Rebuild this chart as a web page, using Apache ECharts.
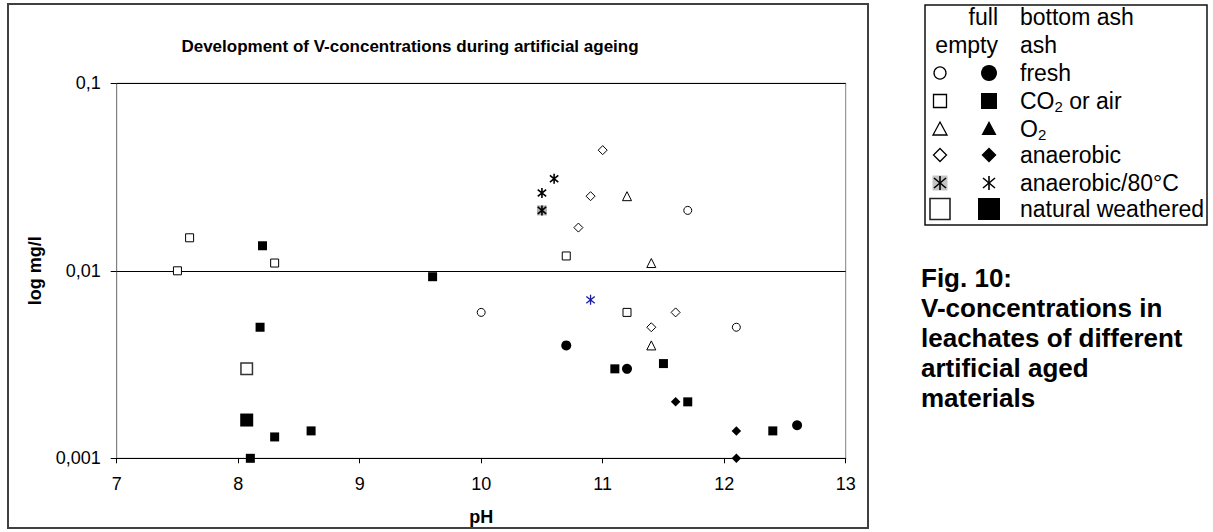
<!DOCTYPE html>
<html>
<head>
<meta charset="utf-8">
<script src="https://cdn.jsdelivr.net/npm/echarts@6/dist/echarts.min.js"></script>
<style>
html, body { margin: 0; padding: 0; background: #fff; }
#chart { width: 1213px; height: 532px; }
</style>
</head>
<body>
<div id="chart"></div>
<script>
// data: [pH, mg/l]
var freshEmpty = [[10.0, 0.006], [11.7, 0.021], [12.1, 0.005]];
var freshFull = [[10.7, 0.004], [11.2, 0.003], [12.6, 0.0015]];
var co2Empty = [[7.5, 0.010], [7.6, 0.015], [8.3, 0.011], [10.7, 0.012], [11.2, 0.006]];
var co2Full = [[8.2, 0.0136], [8.18, 0.005], [8.3, 0.0013], [8.6, 0.0014], [8.1, 0.001],
  [9.6, 0.0093], [11.1, 0.003], [11.5, 0.0032], [11.7, 0.002], [12.4, 0.0014]];
var o2Empty = [[11.2, 0.025], [11.4, 0.011], [11.4, 0.004]];
var anaerobicEmpty = [[11.0, 0.044], [10.9, 0.025], [10.8, 0.017], [11.6, 0.006], [11.4, 0.005]];
var anaerobicFull = [[11.6, 0.002], [12.1, 0.0014], [12.1, 0.001]];
var hot80Empty = [[10.5, 0.021]];
var hot80Full = [[10.6, 0.031], [10.5, 0.026]];
var hot80Blue = [[10.9, 0.007]];
var naturalEmpty = [[8.07, 0.003]];
var naturalFull = [[8.07, 0.0016]];

var yTickLabels = ['0,001', '0,01', '0,1'];
var legendTexts = ['fresh', 'CO{s|2} or air', 'O{s|2}', 'anaerobic', 'anaerobic/80°C', 'natural weathered'];

var FONT = '"Liberation Sans", Arial, sans-serif';
var STAR = 'path://M5 0L5 10M0.8 1.6L9.2 8.4M9.2 1.6L0.8 8.4';

function sc(name, data, symbol, size, fill, stroke, bw) {
  return {
    name: name,
    type: 'scatter',
    data: data,
    symbol: symbol,
    symbolSize: size,
    symbolKeepAspect: true,
    clip: false,
    itemStyle: { color: fill, borderColor: stroke, borderWidth: bw, opacity: 1 },
    emphasis: { disabled: true }
  };
}

// legend table drawn by hand (two symbol columns)
function legendGraphics() {
  var g = [];
  var x0 = 940, x1 = 989, tx = 1020;
  var rows = [73, 101, 129, 155, 183, 209];
  g.push({ type: 'rect', shape: { x: 925, y: 5, width: 282, height: 220 },
    style: { fill: 'none', stroke: '#111', lineWidth: 1.5 } });
  function txt(t, x, y, align) {
    g.push({ type: 'text', x: x, y: y, style: {
      text: t, font: '23px ' + FONT, fill: '#000',
      textAlign: align, align: align, textVerticalAlign: 'middle', verticalAlign: 'middle' } });
  }
  txt('full', 998, 17, 'right');
  txt('empty', 998, 45, 'right');
  txt('bottom ash', tx, 17, 'left');
  txt('ash', tx, 45, 'left');
  var open = { fill: '#fff', stroke: '#000', lineWidth: 1.3 };
  var full = { fill: '#000', stroke: '#000', lineWidth: 0 };
  // fresh
  g.push({ type: 'circle', shape: { cx: x0, cy: rows[0], r: 6 }, style: open });
  g.push({ type: 'circle', shape: { cx: x1, cy: rows[0], r: 8 }, style: full });
  // CO2
  g.push({ type: 'rect', shape: { x: x0 - 6.5, y: rows[1] - 6.5, width: 13, height: 13 }, style: open });
  g.push({ type: 'rect', shape: { x: x1 - 8, y: rows[1] - 8, width: 16, height: 16 }, style: full });
  // O2
  g.push({ type: 'polygon', shape: { points: [[x0, rows[2] - 7], [x0 + 7, rows[2] + 6], [x0 - 7, rows[2] + 6]] }, style: open });
  g.push({ type: 'polygon', shape: { points: [[x1, rows[2] - 8], [x1 + 7.5, rows[2] + 6], [x1 - 7.5, rows[2] + 6]] }, style: full });
  // anaerobic
  g.push({ type: 'polygon', shape: { points: [[x0, rows[3] - 6.5], [x0 + 6.5, rows[3]], [x0, rows[3] + 6.5], [x0 - 6.5, rows[3]]] }, style: open });
  g.push({ type: 'polygon', shape: { points: [[x1, rows[3] - 7.5], [x1 + 7.5, rows[3]], [x1, rows[3] + 7.5], [x1 - 7.5, rows[3]]] }, style: full });
  // anaerobic/80
  g.push({ type: 'rect', shape: { x: x0 - 7.5, y: rows[4] - 7.5, width: 15, height: 15 }, style: { fill: '#c4c4c4' } });
  [x0, x1].forEach(function (cx) {
    var cy = rows[4];
    [[cx, cy - 7, cx, cy + 7], [cx - 6, cy - 5, cx + 6, cy + 5], [cx + 6, cy - 5, cx - 6, cy + 5]].forEach(function (l) {
      g.push({ type: 'line', shape: { x1: l[0], y1: l[1], x2: l[2], y2: l[3] }, style: { stroke: '#000', lineWidth: 1.6 } });
    });
  });
  // natural weathered
  g.push({ type: 'rect', shape: { x: x0 - 10, y: rows[5] - 10.5, width: 20, height: 21 }, style: { fill: '#fff', stroke: '#222', lineWidth: 1.6 } });
  g.push({ type: 'rect', shape: { x: x1 - 11, y: rows[5] - 11, width: 22, height: 22 }, style: full });

  legendTexts.forEach(function (t, i) {
    g.push({ type: 'text', x: tx, y: rows[i], style: {
      text: '{n|' + t.replace(/\{s\|2\}/g, '}{s|2}{n|') + '}',
      textAlign: 'left', align: 'left', textVerticalAlign: 'middle', verticalAlign: 'middle',
      rich: {
        n: { fontSize: 23, fontFamily: FONT, color: '#000', lineHeight: 25, verticalAlign: 'middle' },
        s: { fontSize: 15, fontFamily: FONT, color: '#000', lineHeight: 25, verticalAlign: 'bottom' }
      } } });
  });
  return g;
}

var captionLines = ['Fig. 10:', 'V-concentrations in', 'leachates of different', 'artificial aged', 'materials'];

var chart = echarts.init(document.getElementById('chart'), null, { renderer: 'svg' });
var option = {
  animation: false,
  backgroundColor: '#fff',
  textStyle: { fontFamily: FONT },
  title: {
    text: 'Development of V-concentrations during artificial ageing',
    left: 410, top: 38, textAlign: 'center', padding: 0,
    textStyle: { fontSize: 17, fontWeight: 'bold', color: '#000', fontFamily: FONT }
  },
  grid: {
    left: 116.7, right: 1213 - 845.7, top: 83.3, bottom: 532 - 458.3,
    show: true, borderColor: '#808080', borderWidth: 1, backgroundColor: 'transparent'
  },
  xAxis: {
    type: 'value', min: 7, max: 13, interval: 1,
    name: 'pH', nameLocation: 'middle', nameGap: 50,
    nameTextStyle: { fontSize: 18, fontWeight: 'bold', color: '#000', fontFamily: FONT },
    axisLine: { show: true, onZero: false, lineStyle: { color: '#000', width: 1 } },
    axisTick: { show: true, inside: false, length: 5, lineStyle: { color: '#000' } },
    axisLabel: { fontSize: 18, color: '#000', margin: 17, fontFamily: FONT },
    splitLine: { show: false }
  },
  yAxis: {
    type: 'log', logBase: 10, min: 0.001, max: 0.1,
    name: 'log mg/l', nameLocation: 'middle', nameGap: 73, nameRotate: 90,
    nameTextStyle: { fontSize: 18, fontWeight: 'bold', color: '#000', fontFamily: FONT },
    axisLine: { show: true, lineStyle: { color: '#808080', width: 1 } },
    axisTick: { show: true, inside: false, length: 6, lineStyle: { color: '#000' } },
    minorTick: { show: false },
    axisLabel: {
      fontSize: 18, color: '#000', margin: 16, fontFamily: FONT,
      formatter: function (v) { return yTickLabels[Math.round(Math.log10(v)) + 3]; }
    },
    splitLine: { show: true, lineStyle: { color: ['#000', '#000', '#808080'], width: 1 } }
  },
  graphic: [
    { type: 'rect', shape: { x: 8, y: 4, width: 860, height: 524 },
      style: { fill: 'none', stroke: '#404040', lineWidth: 2 }, silent: true }
  ].concat(legendGraphics()).concat(captionLines.map(function (t, i) {
    return { type: 'text', x: 921, y: 277.5 + i * 30, style: {
      text: t, font: 'bold 26px ' + FONT, fill: '#000',
      textAlign: 'left', align: 'left', textVerticalAlign: 'middle', verticalAlign: 'middle' } };
  })),
  series: [
    sc('fresh empty', freshEmpty, 'circle', 8, '#fff', '#000', 1),
    sc('fresh full', freshFull, 'circle', 10, '#000', '#000', 0),
    sc('CO2 empty', co2Empty, 'rect', 8, '#fff', '#000', 1),
    sc('CO2 full', co2Full, 'rect', 9, '#000', '#000', 0),
    sc('O2 empty', o2Empty, 'triangle', 9, '#fff', '#000', 1),
    sc('anaerobic empty', anaerobicEmpty, 'diamond', 9, '#fff', '#000', 1),
    sc('anaerobic full', anaerobicFull, 'diamond', 9.5, '#000', '#000', 0),
    sc('anaerobic/80 empty base', hot80Empty, 'rect', 10, '#b0b0b0', '#b0b0b0', 0),
    sc('anaerobic/80 empty', hot80Empty, STAR, 10, 'none', '#000', 1.6),
    sc('anaerobic/80 full', hot80Full, STAR, 10, 'none', '#000', 1.6),
    sc('anaerobic/80 blue', hot80Blue, STAR, 10, 'none', '#1a1aa8', 1.3),
    sc('natural empty', naturalEmpty, 'rect', 11.5, '#fff', '#333', 1.5),
    sc('natural full', naturalFull, 'rect', 13, '#000', '#000', 0)
  ]
};
chart.setOption(option);
window.addEventListener('resize', function () { chart.resize(); });
</script>
</body>
</html>
